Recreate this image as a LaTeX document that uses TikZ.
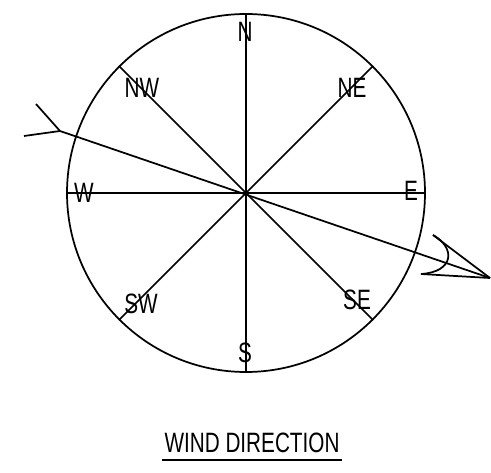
\documentclass[tikz,border=0pt]{standalone}
\usepackage{fontspec}
\setmainfont{Liberation Sans}
\usepackage{tikz}
\usetikzlibrary{positioning, calc}

\begin{document}
\begin{tikzpicture}[
    x=0.75pt, y=-0.75pt,
    line width=1.3pt,
    rose/.style={circle, draw, minimum size=268.5pt, inner sep=0pt},
    dir/.style={font=\fontsize{21}{24}\selectfont, xscale=0.74, inner sep=0pt}
]
    \useasboundingbox (0,0) rectangle (491,473);

    % compass rose
    \node[rose] (C) at (246,193) {};
    \coordinate (O) at (246,193);
    \draw (C.north) -- (C.south);
    \draw (C.west) -- (C.east);
    \draw (C.north west) -- (C.south east);
    \draw (C.north east) -- (C.south west);

    % direction labels
    \node[dir] (N) at (245,32) {N};
    \node[dir] (NW) at (142,88) {NW};
    \node[dir] (NE) at (352,88) {NE};
    \node[dir] (W) at (84,193) {W};
    \node[dir] (E) at (411,191) {E};
    \node[dir] (SW) at (141,304) {SW};
    \node[dir] (SE) at (357,300) {SE};
    \node[dir] (S) at (245,353) {S};

    % wind arrow
    \coordinate (tail) at (60,131);
    \coordinate (tip) at (490,278);
    \coordinate (fup) at (36,104);
    \coordinate (flow) at (24,136);
    \coordinate (eyetop) at (433,235);
    \coordinate (eyebot) at (421,274);
    \draw (tail) -- (tip);
    \draw (fup) -- (tail);
    \draw (flow) -- (tail);
    \draw (eyetop) -- (tip);
    \draw (eyebot) -- (tip);
    \draw (eyetop) .. controls (456,248) and (454,272) .. (eyebot);

    % title
    \node[dir] (title) at (252,443) {WIND DIRECTION};
    \draw[line width=1.8pt] ($(title.south west)+(-2,6)$) -- ($(title.south east)+(2,6)$);
\end{tikzpicture}
\end{document}
